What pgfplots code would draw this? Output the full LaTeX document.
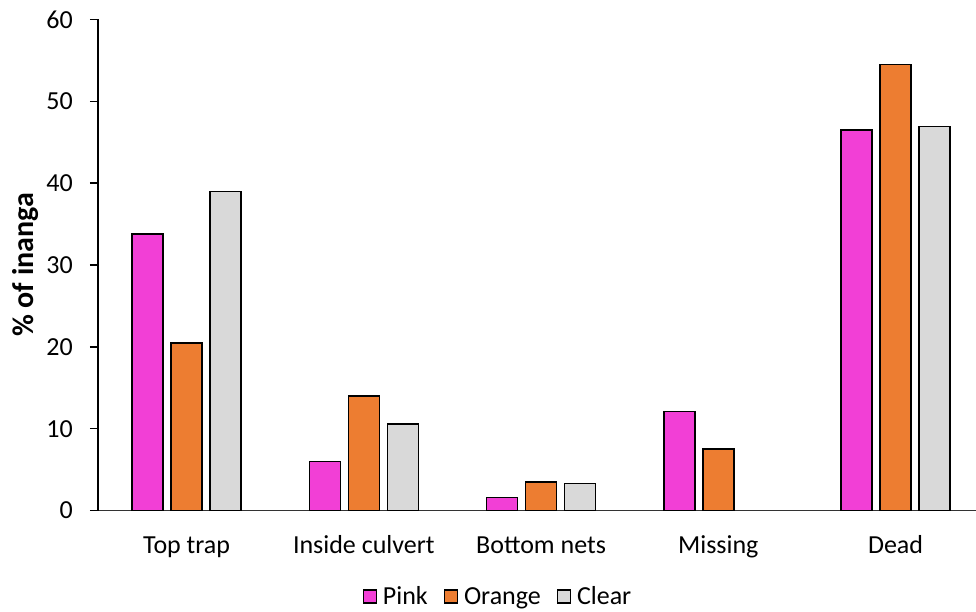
\documentclass[border=0pt]{standalone}
\usepackage{pgfplots}
\pgfplotsset{compat=1.18}
\usepackage{fontspec}
\setmainfont{Carlito}
\definecolor{pinkbar}{HTML}{F23FD6}
\definecolor{orangebar}{HTML}{ED7D31}
\definecolor{clearbar}{HTML}{D9D9D9}

\begin{document}
\begin{tikzpicture}
\useasboundingbox (0,0) rectangle (976bp,612bp);
\begin{axis}[
  at={(98bp,101.5bp)}, anchor=south west,
  scale only axis,
  width=878bp, height=491bp,
  xmin=-0.5, xmax=4.454,
  ymin=0, ymax=60,
  ytick={0,10,...,60},
  xtick={0,1,2,3,4},
  xticklabels={Top trap, Inside culvert, Bottom nets, Missing, Dead},
  font=\fontsize{26bp}{30bp}\selectfont,
  /pgf/number format/assume math mode=true,
  axis x line*=bottom,
  axis y line*=left,
  x axis line style={draw=black!80, line width=1.2bp, -},
  y axis line style={draw=black, line width=1.4bp, -},
  major x tick style={draw=none},
  major y tick style={draw=black, line width=1.4bp},
  tick align=outside,
  major tick length=8bp,
  yticklabel style={anchor=east, inner sep=0pt, xshift=-17bp},
  xticklabel style={anchor=base, inner sep=0pt, yshift=-35bp},
  ylabel={\textbf{\% of inanga}},
  ylabel style={at={(axis description cs:-0.082,0.5)}, anchor=center,
    font=\fontsize{30bp}{34bp}\selectfont},
  ybar=8bp,
  bar width=31bp,
  legend style={
    at={(axis description cs:0.4556,-0.175)}, anchor=center,
    legend columns=3, draw=none, fill=none,
    /tikz/every odd column/.append style={column sep=4bp},
    /tikz/every even column/.append style={column sep=14bp},
    legend cell align=left,
    font=\fontsize{26bp}{30bp}\selectfont,
  },
  legend image code/.code={
    \draw[#1, draw=black, line width=1.2bp] (0bp,-6.5bp) rectangle (13bp,6.5bp);
  },
]
\addplot[fill=pinkbar, draw=black, line width=1.6bp]
  coordinates {(0,33.8) (1,6.0) (2,1.6) (3,12.1) (4,46.5)};
\addplot[fill=orangebar, draw=black, line width=1.6bp]
  coordinates {(0,20.5) (1,14.0) (2,3.5) (3,7.5) (4,54.5)};
\addplot[fill=clearbar, draw=black, line width=1.6bp]
  coordinates {(0,39.0) (1,10.6) (2,3.3) (4,46.9)};
\legend{Pink, Orange, Clear}
\end{axis}
\end{tikzpicture}
\end{document}
